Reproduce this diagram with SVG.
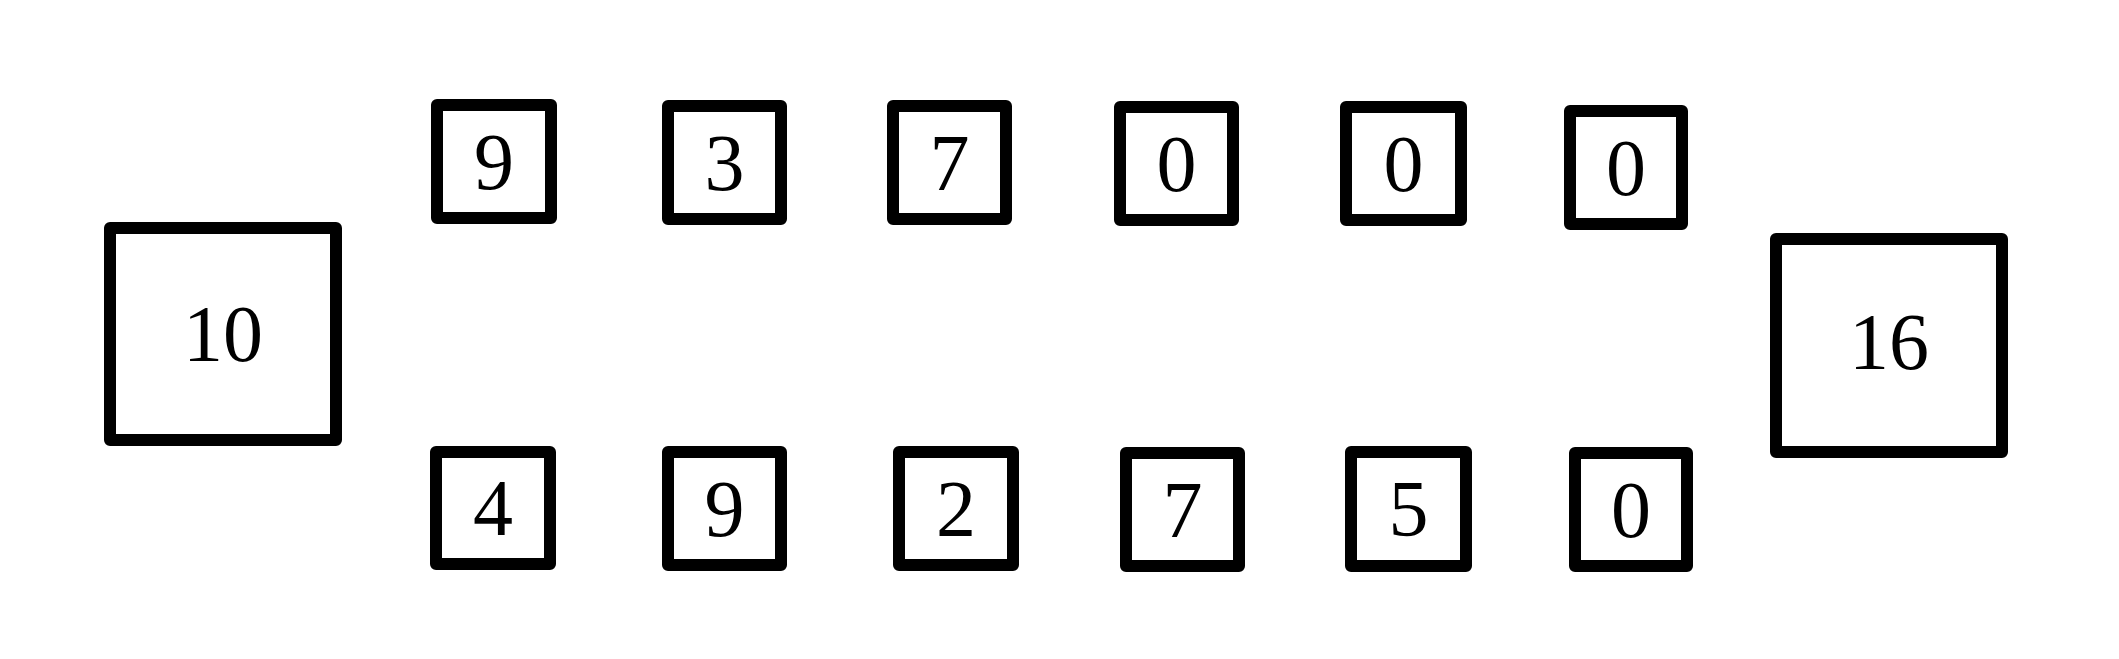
<svg xmlns="http://www.w3.org/2000/svg" width="2119" height="659" viewBox="0 0 2119 659">
<style>
.box{fill:#fff;stroke:#000;stroke-width:12;stroke-linejoin:round}
.lbl{font-family:"Liberation Serif","DejaVu Serif",serif;font-size:80px;fill:#000;text-anchor:middle}
</style>
<rect width="2119" height="659" fill="#fff"/>
<g id="connectors"/>
<g id="n10"><rect class="box" x="110" y="228" width="226" height="212"/><text class="lbl" x="223" y="361">10</text></g>
<g id="t1"><rect class="box" x="437" y="105" width="114" height="113"/><text class="lbl" x="494" y="188.5">9</text></g>
<g id="t2"><rect class="box" x="668" y="106" width="113" height="113"/><text class="lbl" x="724.5" y="189.5">3</text></g>
<g id="t3"><rect class="box" x="893" y="106" width="113" height="113"/><text class="lbl" x="949.5" y="189.5">7</text></g>
<g id="t4"><rect class="box" x="1120" y="107" width="113" height="113"/><text class="lbl" x="1176.5" y="190.5">0</text></g>
<g id="t5"><rect class="box" x="1346" y="107" width="115" height="113"/><text class="lbl" x="1403.5" y="190.5">0</text></g>
<g id="t6"><rect class="box" x="1570" y="111" width="112" height="113"/><text class="lbl" x="1626" y="194.5">0</text></g>
<g id="b1"><rect class="box" x="436" y="452" width="114" height="112"/><text class="lbl" x="493" y="535">4</text></g>
<g id="b2"><rect class="box" x="668" y="452" width="113" height="113"/><text class="lbl" x="724.5" y="535.5">9</text></g>
<g id="b3"><rect class="box" x="899" y="452" width="114" height="113"/><text class="lbl" x="956" y="535.5">2</text></g>
<g id="b4"><rect class="box" x="1126" y="453" width="113" height="113"/><text class="lbl" x="1182.5" y="536.5">7</text></g>
<g id="b5"><rect class="box" x="1351" y="452" width="115" height="114"/><text class="lbl" x="1408.5" y="536">5</text></g>
<g id="b6"><rect class="box" x="1575" y="453" width="112" height="113"/><text class="lbl" x="1631" y="536.5">0</text></g>
<g id="n16"><rect class="box" x="1776" y="239" width="226" height="213"/><text class="lbl" x="1889" y="368.5">16</text></g>
</svg>
